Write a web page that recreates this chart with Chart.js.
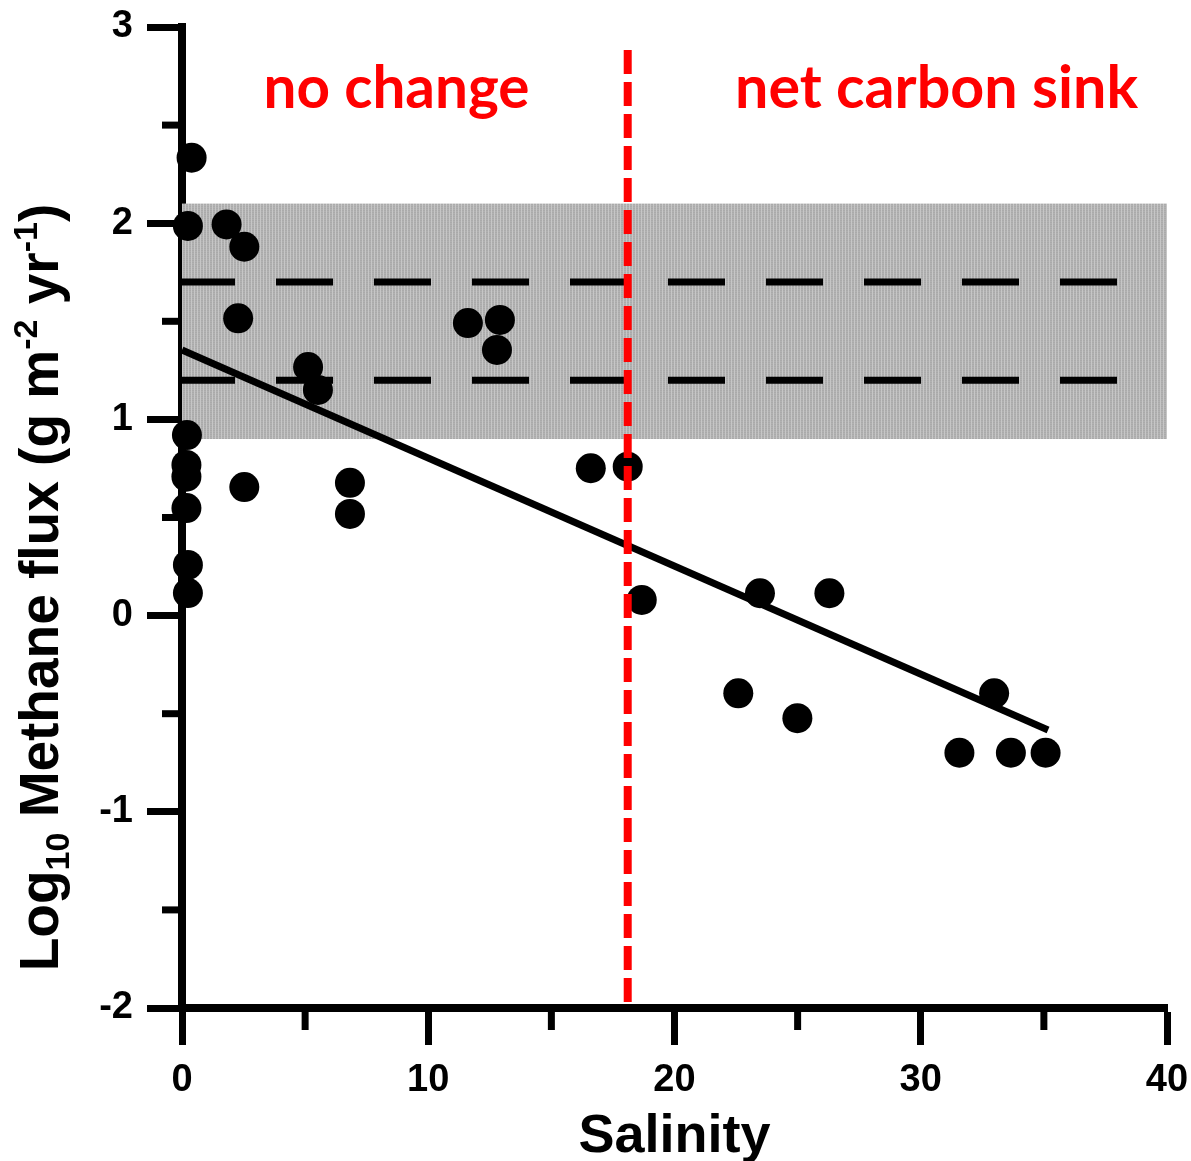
<!DOCTYPE html>
<html>
<head>
<meta charset="utf-8">
<script src="https://cdn.jsdelivr.net/npm/chart.js@4"></script>
<style>
  html, body { margin: 0; padding: 0; background: #fff; }
  #wrap { width: 1191px; height: 1161px; position: relative; }
</style>
</head>
<body>
<div id="wrap"><canvas id="c" width="1191" height="1161"></canvas></div>
<script>
// ---- data ----
const salinity = [0.39, 0.24, 1.81, 2.53, 2.28, 5.12, 5.52, 0.20, 0.18, 0.18, 2.53, 0.18, 0.24, 0.24,
                  6.82, 6.82, 11.61, 12.91, 12.79, 16.60, 18.10, 18.67, 22.59, 23.47, 24.99, 26.29,
                  31.57, 32.98, 33.66, 35.07];
const logFlux  = [2.334, 1.986, 1.994, 1.880, 1.515, 1.267, 1.150, 0.920, 0.768, 0.708, 0.655, 0.548, 0.258, 0.115,
                  0.677, 0.518, 1.491, 1.507, 1.354, 0.751, 0.759, 0.080, -0.396, 0.114, -0.523, 0.114,
                  -0.699, -0.396, -0.699, -0.699];
const fitX = [0, 35.17];
const fitY = [1.354, -0.583];
const refLevels = [1.7, 1.2];
const refLineX = [0, 38.5];
const bandRange = [0.9, 2.1];
const thresholdSalinity = 18.1;
const thresholdY = [2.883, -1.969];
const xTicksMajor = [0, 10, 20, 30, 40];
const xTicksMinor = [5, 15, 25, 35];
const yTicksMinor = [-1.5, -0.5, 0.5, 1.5, 2.5];
const regionLabels = ["no change", "net carbon sink"];
const regionLabelX = [8.71, 30.64];
const regionLabelY = 2.587;

const points = salinity.map((x, i) => ({x: x, y: logFlux[i]}));
const fitLine = fitX.map((x, i) => ({x: x, y: fitY[i]}));
const refLines = refLevels.map(v => refLineX.map(x => ({x: x, y: v})));
const threshold = thresholdY.map(y => ({x: thresholdSalinity, y: y}));

const AX_FONT = "'Liberation Sans', Arial, sans-serif";

const bandPlugin = {
  id: 'band',
  beforeDatasetsDraw(chart) {
    const {ctx, scales: {x, y}} = chart;
    const x0 = x.getPixelForValue(0), x1 = x.getPixelForValue(40);
    const yTop = y.getPixelForValue(bandRange[1]), yBot = y.getPixelForValue(bandRange[0]);
    const pc = document.createElement('canvas');
    pc.width = 3; pc.height = 2;
    const p = pc.getContext('2d');
    p.fillStyle = '#aaaaaa'; p.fillRect(0, 0, 3, 2);
    p.fillStyle = '#c6c6c6'; p.fillRect(2, 0, 1, 2);
    p.fillStyle = '#b2b2b2'; p.fillRect(0, 1, 2, 1);
    ctx.save();
    ctx.fillStyle = ctx.createPattern(pc, 'repeat');
    ctx.fillRect(x0, yTop, x1 - x0, yBot - yTop);
    ctx.restore();
  }
};

const decorPlugin = {
  id: 'decor',
  afterDraw(chart) {
    const {ctx, scales: {x, y}, chartArea} = chart;
    ctx.save();
    // minor ticks
    ctx.strokeStyle = '#000';
    ctx.lineWidth = 7;
    ctx.lineCap = 'butt';
    xTicksMinor.forEach(v => {
      const px = x.getPixelForValue(v);
      ctx.beginPath(); ctx.moveTo(px, chartArea.bottom); ctx.lineTo(px, chartArea.bottom + 22); ctx.stroke();
    });
    yTicksMinor.forEach(v => {
      const py = y.getPixelForValue(v);
      ctx.beginPath(); ctx.moveTo(chartArea.left - 20, py); ctx.lineTo(chartArea.left, py); ctx.stroke();
    });
    // region labels
    ctx.fillStyle = '#ff0000';
    ctx.textAlign = 'center';
    ctx.textBaseline = 'alphabetic';
    ctx.font = "bold 60px Lato, 'Open Sans', sans-serif";
    const targetW = [266, 403];
    regionLabels.forEach((t, i) => {
      const cx = x.getPixelForValue(regionLabelX[i]);
      const cy = y.getPixelForValue(regionLabelY);
      const w = ctx.measureText(t).width;
      const s = Math.min(1.15, targetW[i] / w);
      ctx.save();
      ctx.translate(cx, cy);
      ctx.scale(s, 1);
      ctx.fillText(t, 0, 0);
      ctx.restore();
    });
    // y-axis title with sub/superscripts
    const F = 55;
    const parts = [
      {t: 'Log', s: 1, dy: 0},
      {t: '10', s: 0.62, dy: 0.2},
      {t: ' Methane flux (g m', s: 1, dy: 0},
      {t: '-2', s: 0.62, dy: -0.38},
      {t: ' yr', s: 1, dy: 0},
      {t: '-1', s: 0.62, dy: -0.38},
      {t: ')', s: 1, dy: 0}
    ];
    ctx.fillStyle = '#000';
    ctx.textAlign = 'left';
    let total = 0;
    parts.forEach(p => { ctx.font = `bold ${Math.round(F * p.s)}px ${AX_FONT}`; p.w = ctx.measureText(p.t).width; total += p.w; });
    const midY = (y.getPixelForValue(3) + y.getPixelForValue(-2)) / 2 + 70;
    ctx.translate(58, midY);
    ctx.rotate(-Math.PI / 2);
    let cx = -total / 2;
    parts.forEach(p => {
      ctx.font = `bold ${Math.round(F * p.s)}px ${AX_FONT}`;
      ctx.fillText(p.t, cx, p.dy * F);
      cx += p.w;
    });
    ctx.restore();
  }
};

new Chart(document.getElementById('c'), {
  type: 'scatter',
  data: {
    datasets: [
      { type: 'line', data: threshold, borderColor: '#ff0000', borderWidth: 8, borderDash: [24, 8],
        pointRadius: 0, fill: false, tension: 0, borderCapStyle: 'butt', clip: false },
      { data: points, backgroundColor: '#000', borderWidth: 0, pointRadius: 15, pointHoverRadius: 15, clip: false },
      { type: 'line', data: fitLine, borderColor: '#000', borderWidth: 7, pointRadius: 0, fill: false, tension: 0,
        borderCapStyle: 'butt', clip: false },
      { type: 'line', data: refLines[0], borderColor: '#000', borderWidth: 7, borderDash: [57, 41], borderDashOffset: 4,
        pointRadius: 0, fill: false, borderCapStyle: 'butt', clip: false },
      { type: 'line', data: refLines[1], borderColor: '#000', borderWidth: 7, borderDash: [57, 41], borderDashOffset: 4,
        pointRadius: 0, fill: false, borderCapStyle: 'butt', clip: false }
    ]
  },
  options: {
    responsive: false,
    animation: false,
    events: [],
    layout: { autoPadding: false, padding: { top: 27, right: 24, left: 0, bottom: 0 } },
    plugins: { legend: { display: false }, tooltip: { enabled: false } },
    scales: {
      x: {
        type: 'linear', min: 0, max: 40,
        afterFit(scale) { scale.height = 153; scale.paddingLeft = 0; scale.paddingRight = 0; },
        ticks: { stepSize: 10, color: '#000', padding: 13, font: { family: AX_FONT, size: 38, weight: 'bold' },
                 maxRotation: 0, autoSkip: false },
        afterBuildTicks(scale) { scale.ticks = xTicksMajor.map(v => ({value: v})); },
        grid: { drawOnChartArea: false, drawTicks: true, tickLength: 37, tickWidth: 7, tickColor: '#000' },
        border: { display: true, color: '#000', width: 8 },
        title: { display: true, text: 'Salinity', color: '#000',
                 font: { family: AX_FONT, size: 54, weight: 'bold', lineHeight: 1 }, padding: { top: 0, bottom: -3 } }
      },
      y: {
        type: 'linear', min: -2, max: 3,
        afterFit(scale) { scale.width = 182; scale.paddingTop = 0; scale.paddingBottom = 0; },
        ticks: { stepSize: 1, color: '#000', padding: 14, font: { family: AX_FONT, size: 38, weight: 'bold' } },
        grid: { drawOnChartArea: false, drawTicks: true, tickLength: 35, tickWidth: 7, tickColor: '#000' },
        border: { display: true, color: '#000', width: 8 }
      }
    }
  },
  plugins: [bandPlugin, decorPlugin]
});
</script>
</body>
</html>
